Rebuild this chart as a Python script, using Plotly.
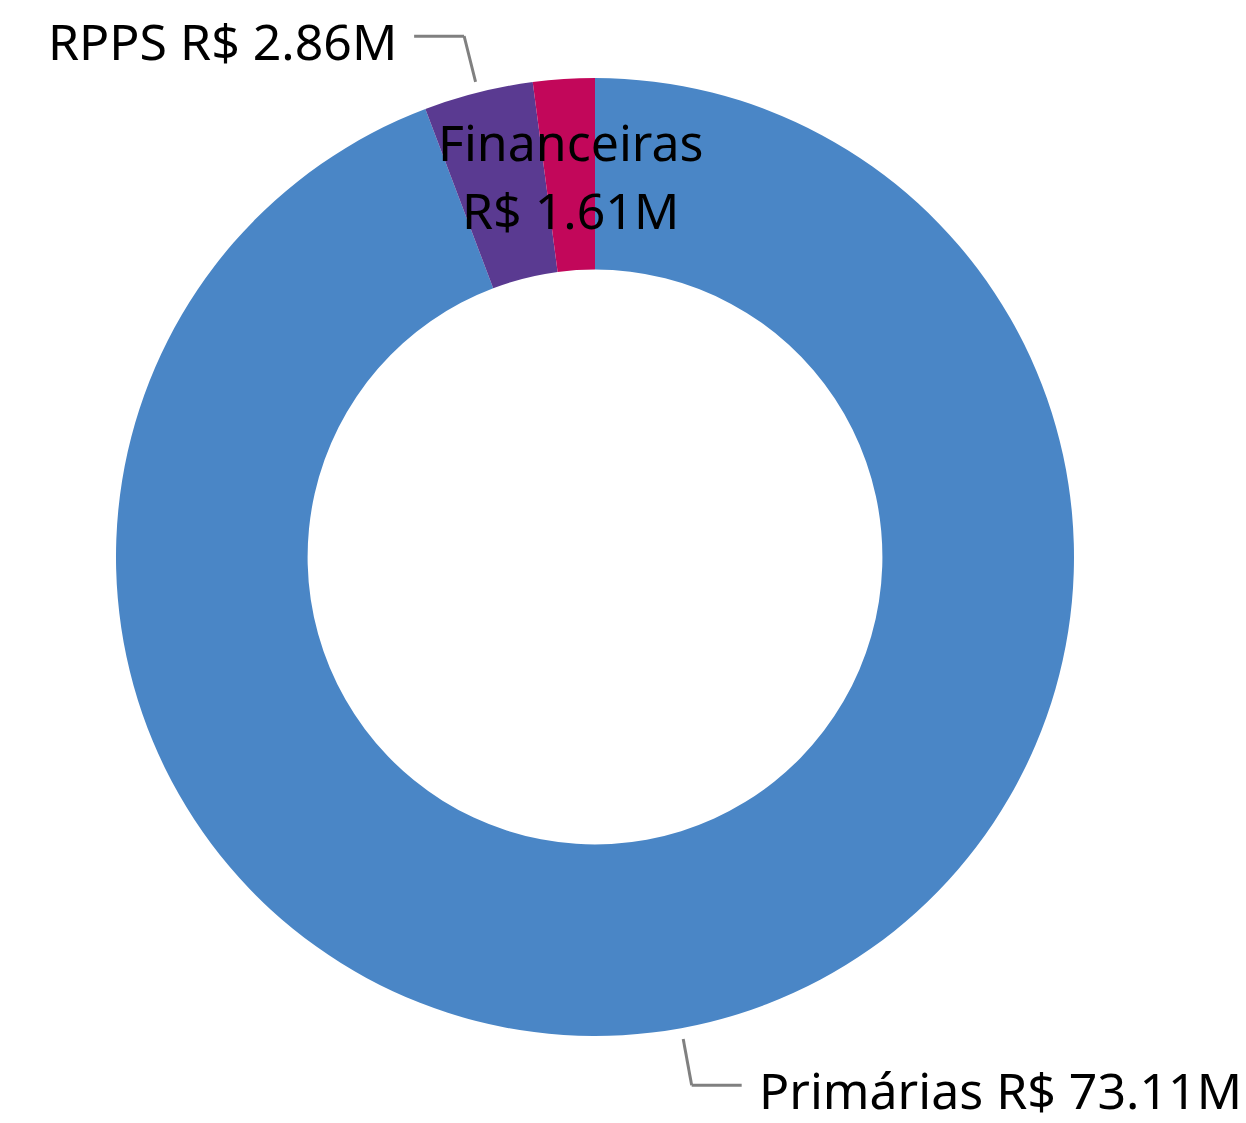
import math
import plotly.graph_objects as go

# Data (clockwise from 12 o'clock)
categories = ["Primárias", "RPPS", "Financeiras"]
values = [73.11, 2.86, 1.61]
value_labels = ["R$ 73.11M", "R$ 2.86M", "R$ 1.61M"]
colors = ["#4A86C6", "#5A3A91", "#C2075A"]

W, H = 1246, 1123
OFF = 8                    # page body margin offset
cx, cy = 595 - OFF, 557 - OFF   # pie centre in figure pixels (from top-left)
R = 479                    # outer radius in pixels
HOLE = 0.6

FONT = "Noto Sans"
FS = 50

fig = go.Figure(go.Pie(
    labels=categories,
    values=values,
    sort=False,
    direction="clockwise",
    rotation=0,
    hole=HOLE,
    marker=dict(colors=colors, line=dict(width=0)),
    textinfo="none",
    hoverinfo="label+value",
    showlegend=False,
    domain=dict(x=[(cx - R) / W, (cx + R) / W],
                y=[(H - cy - R) / H, (H - cy + R) / H]),
))

def px(x, y):
    return x / W, 1 - y / H

total = sum(values)
start = 0.0
annotations = []
shapes = []
for name, v, vl in zip(categories, values, value_labels):
    frac = v / total
    mid = (start + frac / 2) * 2 * math.pi  # clockwise from top
    start += frac
    sx, sy = math.sin(mid), -math.cos(mid)   # unit direction in screen coords
    if frac < 0.03:
        # inside label (two lines)
        rm = R * (1 + HOLE) / 2
        bx, by = cx + sx * rm, cy + sy * rm
        for txt, dy in [(name, -33), (vl, 35)]:
            x, y = px(bx, by + dy)
            annotations.append(dict(x=x, y=y, xref="paper", yref="paper",
                                    text=txt, showarrow=False,
                                    font=dict(family=FONT, size=FS, color="black"),
                                    xanchor="center", yanchor="middle"))
        continue
    r1, r2 = R + 11, R + 58
    x1, y1 = cx + sx * r1, cy + sy * r1
    x2, y2 = cx + sx * r2, cy + sy * r2
    side = 1 if sx > 0 else -1
    x3 = x2 + side * 50
    for (a, b), (c, d) in [((x1, y1), (x2, y2)), ((x2, y2), (x3, y2))]:
        p0 = px(a, b); p1 = px(c, d)
        shapes.append(dict(type="line", xref="paper", yref="paper",
                           x0=p0[0], y0=p0[1], x1=p1[0], y1=p1[1],
                           line=dict(color="#808080", width=3)))
    lx, ly = px(x3 + side * 16, y2 + 5)
    annotations.append(dict(x=lx, y=ly, xref="paper", yref="paper",
                            text=f"{name} {vl}", showarrow=False,
                            font=dict(family=FONT, size=FS, color="black"),
                            borderpad=0,
                            xanchor="left" if side > 0 else "right",
                            yanchor="middle"))

fig.update_layout(
    width=W, height=H,
    margin=dict(l=0, r=0, t=0, b=0),
    paper_bgcolor="white",
    plot_bgcolor="white",
    annotations=annotations,
    shapes=shapes,
)

fig.write_html("out.html")
